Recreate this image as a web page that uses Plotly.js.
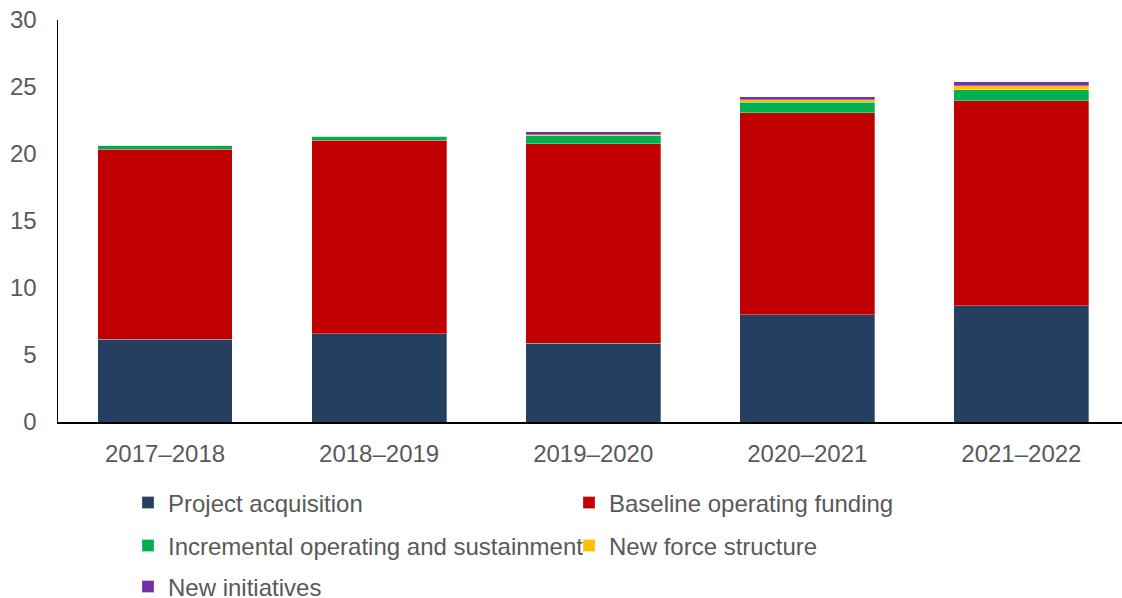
<!DOCTYPE html>
<html>
<head>
<meta charset="utf-8">
<script src="https://cdn.plot.ly/plotly-3.0.1.min.js"></script>
<style>html,body{margin:0;padding:0;background:#fff;}#chart{width:1122px;height:598px;}</style>
</head>
<body>
<div id="chart"></div>
<script>
const categories = ["2017–2018", "2018–2019", "2019–2020", "2020–2021", "2021–2022"];
const projectAcquisition = [6.17, 6.57, 5.87, 7.99, 8.66];
const baselineOperating = [14.2, 14.47, 14.88, 15.09, 15.32];
const incrementalOperating = [0.28, 0.28, 0.62, 0.80, 0.80];
const newForceStructure = [0.0, 0.0, 0.05, 0.17, 0.30];
const newInitiatives = [0.0, 0.05, 0.25, 0.23, 0.30];
const seriesNames = ["Project acquisition", "Baseline operating funding", "Incremental operating and sustainment", "New force structure", "New initiatives"];
const seriesColors = ["#243F60", "#C00000", "#00B050", "#FFC000", "#7030A0"];
const seriesValues = [projectAcquisition, baselineOperating, incrementalOperating, newForceStructure, newInitiatives];
const legendRows = ["legend", "legend", "legend2", "legend2", "legend3"];

const font = {family: "Liberation Sans, Arial, sans-serif", size: 24, color: "#595959"};
const traces = seriesValues.map((vals, i) => ({
  type: "bar",
  name: seriesNames[i],
  x: categories,
  y: vals,
  legend: legendRows[i],
  marker: {color: seriesColors[i], line: {color: "rgba(255,255,255,0.6)", width: 0.5}},
  hoverinfo: "skip"
}));

const plotTop = 20, plotBottom = 422, plotH = plotBottom - plotTop;
function py(p) { return (plotBottom - p) / plotH; }
const legX = (128 - 58) / 1064;
function legendAt(rowPx) {
  return {
    orientation: "h", x: legX, xref: "paper", y: py(rowPx), yanchor: "middle",
    font: font, entrywidth: 396, entrywidthmode: "pixels",
    traceorder: "normal", itemwidth: 30, bgcolor: "rgba(0,0,0,0)"
  };
}

const layout = {
  width: 1122, height: 598,
  margin: {l: 58, r: 0, t: plotTop, b: 598 - plotBottom, autoexpand: false},
  barmode: "stack",
  bargap: 0.37,
  paper_bgcolor: "#fff", plot_bgcolor: "#fff",
  font: font,
  showlegend: true,
  xaxis: {
    type: "category", range: [-0.5, 4.47],
    showline: true, linecolor: "#000", linewidth: 1.5,
    ticks: "", showgrid: false, zeroline: false,
    tickfont: font, ticklabelstandoff: 10, automargin: false
  },
  yaxis: {
    range: [0, 30], dtick: 5, tick0: 0,
    showline: true, linecolor: "#000", linewidth: 1.5,
    ticks: "", showgrid: false, zeroline: false,
    tickfont: font, ticklabelstandoff: 15, automargin: false
  },
  legend: legendAt(503),
  legend2: legendAt(546),
  legend3: legendAt(587)
};
Plotly.newPlot("chart", traces, layout, {displayModeBar: false, staticPlot: true});
</script>
</body>
</html>
